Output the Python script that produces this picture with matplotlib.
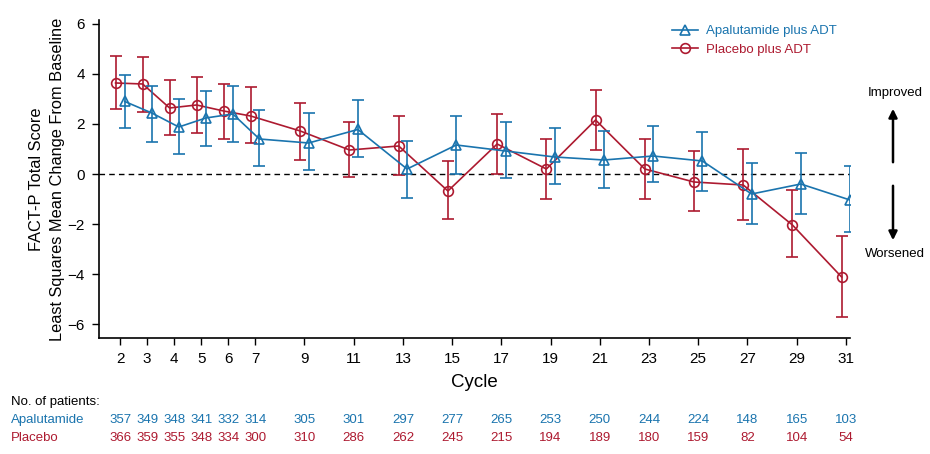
import numpy as np
import matplotlib
matplotlib.use("Agg")
import matplotlib.pyplot as plt
from matplotlib.lines import Line2D
from matplotlib import transforms

plt.rcParams['font.family'] = ['Liberation Sans Narrow', 'Liberation Sans', 'DejaVu Sans']

# data
cycles = [2, 3, 4, 5, 6, 7, 9, 11, 13, 15, 17, 19, 21, 23, 25, 27, 29, 31]

apa_mean = [2.9, 2.44, 1.88, 2.24, 2.4, 1.4, 1.24, 1.78, 0.2, 1.16, 0.92, 0.68, 0.56, 0.72, 0.52, -0.8, -0.4, -1.04]
apa_hi = [3.96, 3.5, 3.0, 3.32, 3.5, 2.56, 2.44, 2.96, 1.32, 2.32, 2.08, 1.84, 1.72, 1.92, 1.68, 0.44, 0.84, 0.32]
apa_lo = [1.84, 1.28, 0.8, 1.12, 1.28, 0.32, 0.16, 0.68, -0.96, 0.0, -0.16, -0.4, -0.56, -0.32, -0.68, -2.0, -1.6, -2.32]

pla_mean = [3.64, 3.6, 2.64, 2.76, 2.52, 2.32, 1.72, 0.96, 1.12, -0.68, 1.2, 0.2, 2.16, 0.2, -0.32, -0.44, -2.04, -4.12]
pla_hi = [4.72, 4.68, 3.76, 3.88, 3.6, 3.48, 2.84, 2.08, 2.32, 0.52, 2.4, 1.4, 3.36, 1.4, 0.92, 1.0, -0.64, -2.48]
pla_lo = [2.6, 2.48, 1.56, 1.64, 1.4, 1.24, 0.56, -0.12, -0.04, -1.8, 0.0, -1.0, 0.96, -1.0, -1.48, -1.84, -3.32, -5.72]

apa_n = [357, 349, 348, 341, 332, 314, 305, 301, 297, 277, 265, 253, 250, 244, 224, 148, 165, 103]
pla_n = [366, 359, 355, 348, 334, 300, 310, 286, 262, 245, 215, 194, 189, 180, 159, 82, 104, 54]

blue = '#1a74ae'
red = '#ad1a30'

# cycles 2-7 are drawn a bit wider apart than the later ones
k = 27 / 24.6


def fwd(c):
    c = np.asarray(c, float)
    return np.where(c <= 7, 7 - (7 - c) * k, c)


def inv(p):
    p = np.asarray(p, float)
    return np.where(p <= 7, 7 - (7 - p) / k, p)


fig = plt.figure(figsize=(9.3, 4.54), dpi=100)
ax = fig.add_axes([0.106, 0.256, 0.808, 0.700])
ax.set_xscale('function', functions=(fwd, inv))

x = np.array(cycles, float)
off = 0.17

am = np.array(apa_mean)
pm = np.array(pla_mean)
ax.errorbar(x - off, pm, yerr=[pm - np.array(pla_lo), np.array(pla_hi) - pm],
            color=red, lw=1.2, elinewidth=1.2, capsize=4.5, capthick=1.2,
            marker='o', ms=7, mfc='none', mec=red, mew=1.2, zorder=3)
ax.errorbar(x + off, am, yerr=[am - np.array(apa_lo), np.array(apa_hi) - am],
            color=blue, lw=1.2, elinewidth=1.2, capsize=4.5, capthick=1.2,
            marker='^', ms=7.5, mfc='none', mec=blue, mew=1.2, zorder=4)

ax.axhline(0, color='black', lw=1, ls=(0, (4, 3)), zorder=1)

ax.set_xlim(1.2, 31.17)
ax.set_ylim(-6.55, 6.16)
ax.set_xticks(cycles)
ax.set_xticklabels([str(c) for c in cycles])
ax.xaxis.set_minor_locator(plt.NullLocator())
ax.set_yticks([-6, -4, -2, 0, 2, 4, 6])
ax.set_yticklabels(['\u22126', '\u22124', '\u22122', '0', '2', '4', '6'])
ax.tick_params(axis='both', direction='out', length=5, width=1, labelsize=11, pad=5)
for s in ['top', 'right']:
    ax.spines[s].set_visible(False)
for s in ['left', 'bottom']:
    ax.spines[s].set_linewidth(1.2)

ax.set_xlabel('Cycle', fontsize=13.5, labelpad=6)
ax.set_ylabel('FACT-P Total Score\nLeast Squares Mean Change From Baseline',
              fontsize=11.8, linespacing=1.45, labelpad=2)

handles = [Line2D([], [], color=blue, lw=1.2, marker='^', ms=7.5, mfc='none', mew=1.2),
           Line2D([], [], color=red, lw=1.2, marker='o', ms=7, mfc='none', mew=1.2)]
leg = fig.legend(handles, ['Apalutamide plus ADT', 'Placebo plus ADT'],
                 loc='upper left', bbox_to_anchor=(672 / 930, 1 - 25 / 454),
                 frameon=False, borderpad=0, borderaxespad=0, handlelength=2.0,
                 handletextpad=0.6, labelspacing=0.5,
                 prop={'family': ['Liberation Sans', 'DejaVu Sans'], 'size': 9.5})
for t, c in zip(leg.get_texts(), [blue, red]):
    t.set_color(c)

# improved / worsened arrows on the right
fig.text(895 / 930, 1 - 93 / 454, 'Improved', ha='center', va='center', fontsize=9.5,
         family=['Liberation Sans', 'DejaVu Sans'])
fig.text(895 / 930, 1 - 254 / 454, 'Worsened', ha='center', va='center', fontsize=9.5,
         family=['Liberation Sans', 'DejaVu Sans'])
fig.patches.append(matplotlib.patches.FancyArrowPatch(
    (893 / 930, 1 - 165 / 454), (893 / 930, 1 - 106 / 454), transform=fig.transFigure,
    arrowstyle='-|>,head_length=5,head_width=2.5', lw=1.8, color='black'))
fig.patches.append(matplotlib.patches.FancyArrowPatch(
    (893 / 930, 1 - 183 / 454), (893 / 930, 1 - 243 / 454), transform=fig.transFigure,
    arrowstyle='-|>,head_length=5,head_width=2.5', lw=1.8, color='black'))

# number at risk table
tr = transforms.blended_transform_factory(ax.transData, fig.transFigure)
fig.text(11 / 930, 1 - 402 / 454, 'No. of patients:', fontsize=9.5, va='center')
fig.text(11 / 930, 1 - 420 / 454, 'Apalutamide', fontsize=9.5, va='center', color=blue)
fig.text(11 / 930, 1 - 438 / 454, 'Placebo', fontsize=9.5, va='center', color=red)
for c, a, p in zip(cycles, apa_n, pla_n):
    fig.text(c, 1 - 420 / 454, str(a), transform=tr, fontsize=9.5, ha='center', va='center', color=blue)
    fig.text(c, 1 - 438 / 454, str(p), transform=tr, fontsize=9.5, ha='center', va='center', color=red)

fig.savefig('out.png', dpi=100)
